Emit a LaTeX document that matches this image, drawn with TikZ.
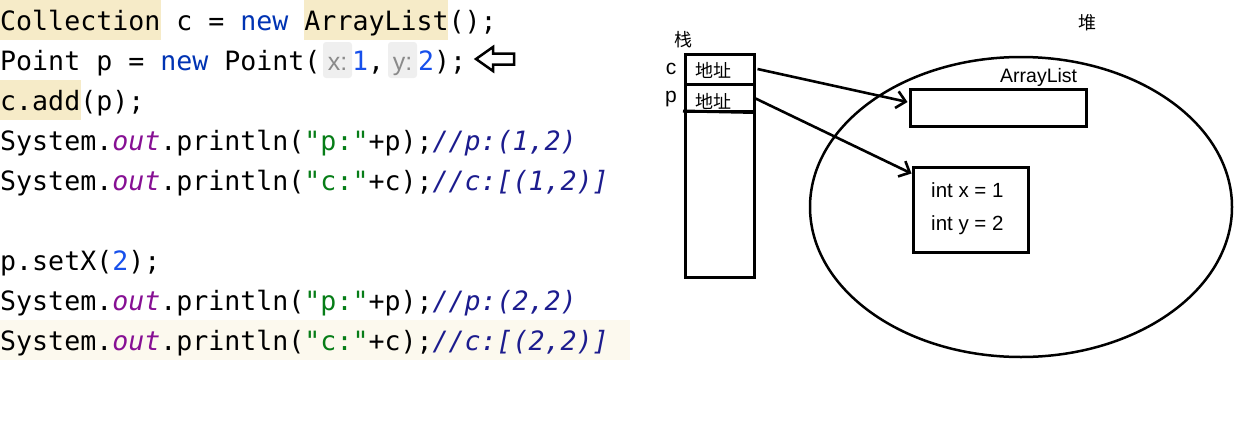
\documentclass[tikz,border=0pt]{standalone}
\usepackage{fontspec}
\usetikzlibrary{shapes.geometric,arrows.meta}
\newfontfamily\codefont{DejaVu Sans Mono}
\newfontfamily\cjk{Noto Sans CJK SC}
\newfontfamily\uifont{Liberation Sans}
\definecolor{kw}{HTML}{0033B3}
\definecolor{num}{HTML}{1750EB}
\definecolor{fld}{HTML}{871094}
\definecolor{str}{HTML}{067D17}
\definecolor{cmt}{HTML}{1C1C8E}
\definecolor{hl}{HTML}{F6EBC8}
\definecolor{curline}{HTML}{FCF9EE}
\definecolor{hintbg}{HTML}{EFEFEF}
\definecolor{hintfg}{HTML}{8A8A8A}
\newcommand{\kwd}[1]{\textcolor{kw}{#1}}
\newcommand{\nmb}[1]{\textcolor{num}{#1}}
\newcommand{\fldd}[1]{\textcolor{fld}{\itshape #1}}
\newcommand{\strr}[1]{\textcolor{str}{#1}}
\newcommand{\cmtt}[1]{\textcolor{cmt}{\itshape #1}}
\begin{document}
\begin{tikzpicture}[x=1pt,y=-1pt,
  code/.style={anchor=base west, inner sep=0pt, font=\codefont\fontsize{26.6}{30}\selectfont},
  hint/.style={fill=hintbg, rounded corners=3pt, draw=none},
  hinttext/.style={anchor=base, inner sep=0pt, text=hintfg, font=\uifont\fontsize{25}{28}\selectfont},
  box/.style={draw, line width=3pt, inner sep=0pt},
  lbl/.style={inner sep=0pt, font=\uifont\fontsize{19.5}{22}\selectfont},
  cjklbl/.style={inner sep=0pt, font=\cjk\fontsize{18}{20}\selectfont},
  arr/.style={line width=2.6pt, -{Straight Barb[length=9pt,width=17pt]}}]
\useasboundingbox (0,0) rectangle (1235,437);
% highlights
\fill[hl] (0,0) rectangle (161,40);
\fill[hl] (304,0) rectangle (448,40);
\fill[hl] (0,80) rectangle (81,120);
\fill[curline] (0,320) rectangle (630,360);
\fill[hint] (323,42) rectangle (352,78);
\fill[hint] (388,42) rectangle (417,78);
% code lines
\node[code] (l1) at (0,30) {Collection c = \kwd{new} ArrayList();};
\node[code] (l2) at (0,70) {Point p = \kwd{new} Point(};
\node[hinttext] (hx) at (337.5,70) {x:};
\node[code] (l2b) at (352,70) {\nmb{1},};
\node[hinttext] (hy) at (402.5,70) {y:};
\node[code] (l2c) at (418,70) {\nmb{2});};
\node[code] (l3) at (0,110) {c.add(p);};
\node[code] (l4) at (0,150) {System.\fldd{out}.println(\strr{"p:"}+p);\cmtt{//p:(1,2)}};
\node[code] (l5) at (0,190) {System.\fldd{out}.println(\strr{"c:"}+c);\cmtt{//c:[(1,2)]}};
\node[code] (l7) at (0,270) {p.setX(\nmb{2});};
\node[code] (l8) at (0,310) {System.\fldd{out}.println(\strr{"p:"}+p);\cmtt{//p:(2,2)}};
\node[code] (l9) at (0,350) {System.\fldd{out}.println(\strr{"c:"}+c);\cmtt{//c:[(2,2)]}};
% hollow pointer arrow
\draw[line width=2.5pt, line join=miter] (476,59) -- (493,47) -- (493,53.5) -- (514,53.5) -- (514,64.5) -- (493,64.5) -- (493,71) -- cycle;
% stack
\node[box, minimum width=69pt, minimum height=223pt] (stack) at (719.5,165.5) {};
\node[box, minimum width=69pt, minimum height=30pt] (cellc) at (719.5,69) {};
\node[box, minimum width=69pt, minimum height=27pt] (cellp) at (719.5,97.5) {};
\draw[line width=3pt] (683,111) -- (cellp.south east);
\node[cjklbl] (zhan) at (683,40) {栈};
\node[lbl, font=\uifont\fontsize{21}{24}\selectfont] (lc) at (671,69) {c};
\node[lbl, font=\uifont\fontsize{21}{24}\selectfont] (lp) at (671,99) {p};
\node[cjklbl] (a1) at (713,70) {地址};
\node[cjklbl] (a2) at (713,101) {地址};
% heap
\node[draw, ellipse, line width=2.5pt, minimum width=422pt, minimum height=300pt, inner sep=0pt] (heap) at (1021,207) {};
\node[cjklbl] (dui) at (1087,23) {堆};
\node[box, minimum width=176pt, minimum height=37pt] (alist) at (998,107.5) {};
\node[lbl, anchor=base west] (altext) at (1000,82) {ArrayList};
\node[box, minimum width=115pt, minimum height=85pt] (pt) at (970.5,209.5) {};
\node[lbl, anchor=base west, font=\uifont\fontsize{20.5}{24}\selectfont] (ix) at (931,197) {int x = 1};
\node[lbl, anchor=base west, font=\uifont\fontsize{20.5}{24}\selectfont] (iy) at (931,230) {int y = 2};
% pointers
\draw[arr] ([xshift=2pt]cellc.east) -- ([yshift=5.5pt,xshift=-1pt]alist.west);
\draw[arr] ([xshift=-2pt]cellp.east) -- ([yshift=-8pt]pt.north west);
\end{tikzpicture}
\end{document}
